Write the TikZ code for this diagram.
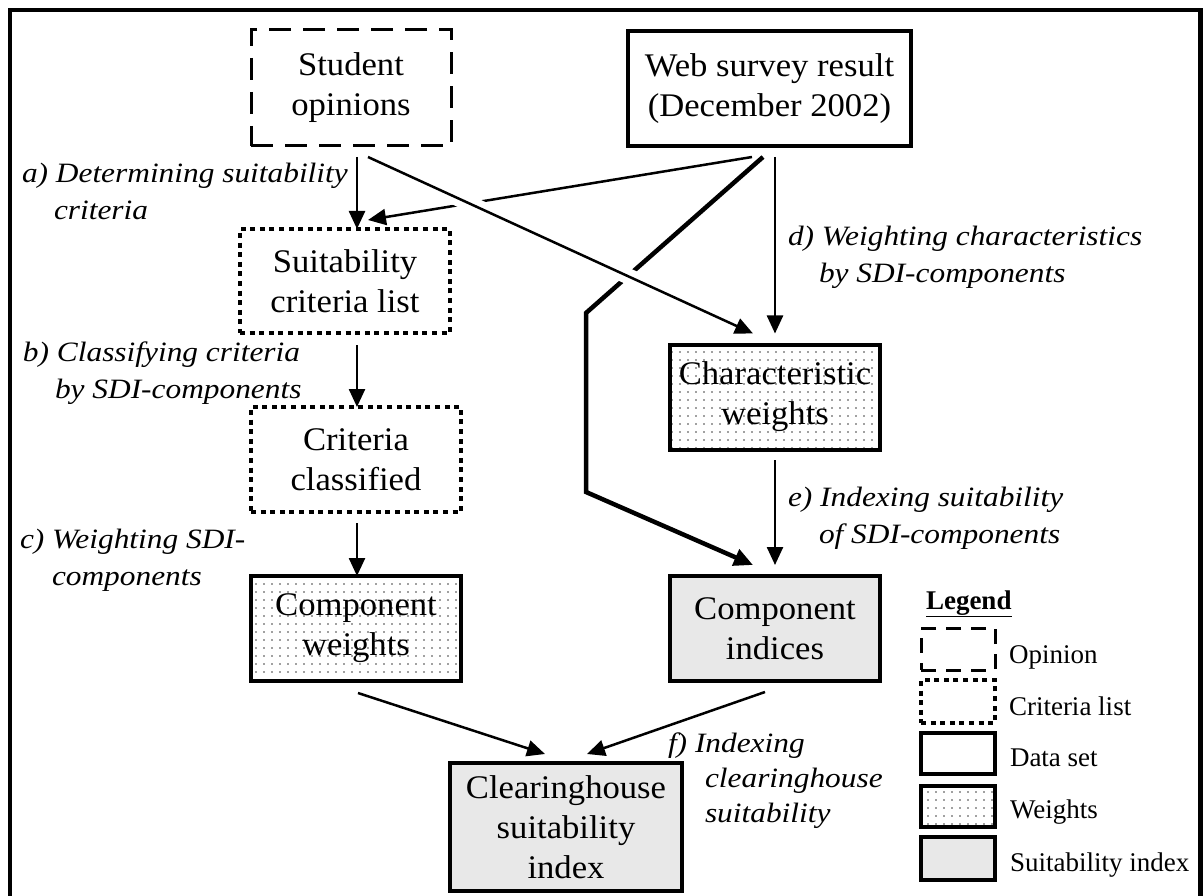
\documentclass[tikz,border=0pt]{standalone}
\usepackage{fontspec}
\setmainfont{Liberation Serif}
\newfontfamily\boxfont{Liberation Serif}[FakeStretch=1.05]
\newfontfamily\stepfont{Liberation Serif}[FakeStretch=1.12]
\usetikzlibrary{arrows.meta,patterns.meta,calc}

\begin{document}
\begin{tikzpicture}[x=1pt,y=-1pt,
  every node/.style={inner sep=0pt, outer sep=0pt},
  box/.style={draw, line width=4pt, align=center,
    font=\boxfont\fontsize{33}{40}\selectfont},
  opinionbox/.style={box, line width=3pt, dash pattern=on 22pt off 12pt},
  listbox/.style={box, line width=4.5pt, dash pattern=on 5pt off 4.6pt},
  dotfill/.style={pattern={Dots[distance=8pt, radius=0.9pt]}, pattern color=black!75},
  weightbox/.style={box, dotfill},
  indexbox/.style={box, fill=black!9},
  keybox/.style={draw, line width=4pt, minimum width=74pt},
  keytext/.style={anchor=base west, font=\fontsize{27}{32}\selectfont},
  lbl/.style={anchor=base west, align=left,
    font=\stepfont\itshape\fontsize{28}{37}\selectfont},
  arr/.style={line width=2.5pt, -{Triangle[length=18pt,width=16pt]}},
  thickarr/.style={line width=4.5pt, -{Triangle[length=19pt,width=17pt]}},
  hop/.style={preaction={draw=white, line width=16pt}}
]
\useasboundingbox (0,0) rectangle (1203,896);
\clip (0,0) rectangle (1203,896);

% outer frame
\draw[line width=4.5pt] (10,10) rectangle (1200.5,915);

% process boxes
\node[opinionbox, minimum width=200pt, minimum height=116pt] (student) at (351,88) {Student\\opinions};
\node[box, minimum width=283pt, minimum height=115pt] (web) at (769.5,88.5) {Web survey result\\(December 2002)};
\node[listbox, minimum width=210pt, minimum height=104pt] (suitlist) at (345,281) {Suitability\\criteria list};
\node[listbox, minimum width=210pt, minimum height=105pt] (critclass) at (356,459.5) {Criteria\\classified};
\node[weightbox, minimum width=210pt, minimum height=105pt] (compw) at (356,628.5) {Component\\weights};
\node[weightbox, minimum width=210pt, minimum height=105pt] (charw) at (775,397) {Characteristic\\weights};
\node[indexbox, minimum width=210pt, minimum height=105pt] (compi) at (775,628.5) {Component\\indices};
\node[indexbox, minimum width=232pt, minimum height=128pt] (clear) at (566,827) {Clearinghouse\\suitability\\index};

% step labels (anchored at the baseline of their last line)
\node[lbl] (la) at (22,220) {a) Determining suitability\\\hspace*{32pt}criteria};
\node[lbl] (lb) at (23,398) {b) Classifying criteria\\\hspace*{32pt}by SDI-components};
\node[lbl] (lc) at (20,585) {c) Weighting SDI-\\\hspace*{32pt}components};
\node[lbl] (ld) at (788,283) {d) Weighting characteristics\\\hspace*{31pt}by SDI-components};
\node[lbl] (le) at (788,543) {e) Indexing suitability\\\hspace*{31pt}of SDI-components};
\node[lbl, font=\stepfont\itshape\fontsize{28}{35}\selectfont] (lf) at (668,822) {f) Indexing\\\hspace*{37pt}clearinghouse\\\hspace*{37pt}suitability};

% connectors
\coordinate (bendA) at (586,313);
\coordinate (bendB) at (586,492);
\draw[arr] ($(web.south)+(-17.5,11)$) -- ($(suitlist.north)+(23,-9)$);
\draw[thickarr, line join=miter] ($(web.south)+(-6.5,11)$) -- (bendA) -- (bendB) -- ($(compi.north)+(-22,-11)$);
\draw[arr, hop] ($(student.south)+(17,11)$) -- ($(charw.north)+(-22,-11)$);
\draw[arr] ($(student.south)+(6,11)$) -- ($(suitlist.north)+(12,0)$);
\draw[arr] ($(web.south)+(5.5,11)$) -- ($(charw.north)+(0,-11)$);
\draw[arr] ($(suitlist.south)+(12,12)$) -- ($(critclass.north)+(1,0)$);
\draw[arr] ($(critclass.south)+(1,11)$) -- ($(compw.north)+(1,0)$);
\draw[arr] ($(charw.south)+(0,10.5)$) -- ($(compi.north)+(0,-11)$);
\draw[arr] ($(compw.south)+(2,12)$) -- ($(clear.north)+(-21,-9)$);
\draw[arr] ($(compi.south)+(-10,11)$) -- ($(clear.north)+(21,-9)$);

% legend
\node[anchor=base west, font=\fontsize{27}{32}\selectfont] (legtitle) at (926,609) {\underline{\textbf{Legend}}};
\node[keybox, line width=3pt, dash pattern=on 15pt off 10pt, minimum height=42pt] (kop) at (958,649) {};
\node[keybox, line width=4.5pt, dash pattern=on 5pt off 4.6pt, minimum height=43pt] (kcl) at (958,701.5) {};
\node[keybox, minimum height=41pt] (kds) at (958,753.5) {};
\node[keybox, minimum height=41pt, dotfill] (kwt) at (958,806.5) {};
\node[keybox, minimum height=43pt, fill=black!9] (ksi) at (958,858.5) {};
\node[keytext] (top) at (1009,663) {Opinion};
\node[keytext] (tcl) at (1009,715) {Criteria list};
\node[keytext] (tds) at (1010,766) {Data set};
\node[keytext] (twt) at (1010,818) {Weights};
\node[keytext] (tsi) at (1010,871) {Suitability index};
\end{tikzpicture}
\end{document}
